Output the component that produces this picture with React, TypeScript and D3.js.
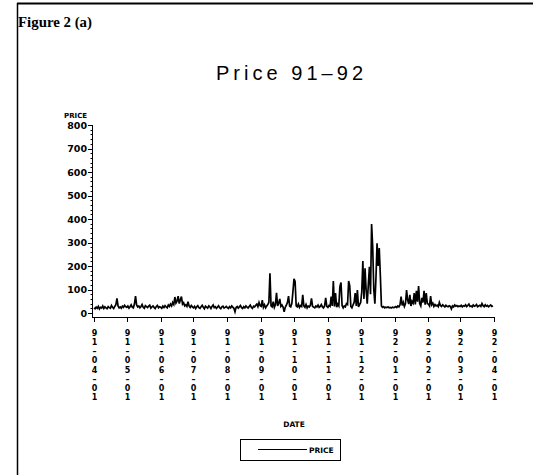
import { useEffect, useRef } from 'react'
import * as d3 from 'd3'

// daily PRICE, one array per month (Apr 1991 .. Mar 1992)
const apr91 = [22,18,25,20,28,17,24,21,30,19,26,22,18,27,23,20,32,24,19,28,35,62,30,22,26,20,29,24,33,27]
const may91 = [24,30,21,27,35,25,22,38,72,34,26,30,22,28,36,24,20,31,27,23,29,33,21,26,30,24,19,28,32,22,27]
const jun91 = [25,20,29,23,31,26,22,34,28,38,30,45,36,68,42,50,72,40,55,70,38,44,30,35,28,48,30,24,32,26]
const jul91 = [22,28,19,26,31,23,20,27,33,24,18,29,25,21,30,26,19,28,34,23,27,20,25,31,22,18,26,29,21,24,28]
const aug91 = [23,19,27,22,30,25,20,5,24,28,21,26,32,23,19,27,22,30,25,21,28,34,24,20,29,26,33,38,27,45,31]
const sep91 = [28,55,24,35,22,30,36,45,169,30,26,48,24,36,86,30,42,60,28,34,25,5,24,33,45,72,30,26,40,90]
const oct91 = [145,134,30,26,38,24,32,28,77,30,24,36,22,30,26,33,62,28,25,22,30,26,34,24,28,36,26,22,30,64,28]
const nov91 = [24,32,28,70,30,136,28,85,25,38,30,112,130,32,22,30,26,40,36,136,115,28,22,34,45,85,30,98,26,36]
const dec91 = [45,90,221,60,190,98,40,120,197,80,379,282,100,40,150,297,200,276,160,30,24,27,22,25,23,26,22,24,21,25,23]
const jan92 = [24,27,23,30,26,35,70,32,45,28,40,98,55,38,77,30,50,42,85,36,94,48,115,40,30,64,45,94,35,85,40]
const feb92 = [38,30,72,35,42,28,36,30,33,27,45,32,28,35,30,26,33,29,27,31,28,17,30,26,34,29,32,27,30]
const mar92 = [28,33,26,31,29,35,27,32,38,28,30,26,34,29,31,36,27,30,33,28,40,31,27,35,29,32,26,30,34,28,31]

const months = [
  { year: 1991, month: 3, values: apr91 },
  { year: 1991, month: 4, values: may91 },
  { year: 1991, month: 5, values: jun91 },
  { year: 1991, month: 6, values: jul91 },
  { year: 1991, month: 7, values: aug91 },
  { year: 1991, month: 8, values: sep91 },
  { year: 1991, month: 9, values: oct91 },
  { year: 1991, month: 10, values: nov91 },
  { year: 1991, month: 11, values: dec91 },
  { year: 1992, month: 0, values: jan92 },
  { year: 1992, month: 1, values: feb92 },
  { year: 1992, month: 2, values: mar92 },
]

const yTicks = [0, 100, 200, 300, 400, 500, 600, 700, 800]

type Pt = { date: Date, value: number }

export default function App() {
  const svgRef = useRef<SVGSVGElement>(null)

  useEffect(() => {
    const data: Pt[] = []
    months.forEach(m => m.values.forEach((v, i) => data.push({ date: new Date(m.year, m.month, i + 1), value: v })))

    const width = 533
    const height = 475
    const x = d3.scaleTime()
      .domain([new Date(1991, 3, 1), new Date(1992, 3, 1)])
      .range([94, 494])
    const y = d3.scaleLinear().domain([0, 800]).range([313, 125])
    const axisY = 317

    const svg = d3.select(svgRef.current)
    svg.selectAll('*').remove()
    svg.attr('width', width).attr('height', height)

    // frame
    svg.append('line').attr('x1', 17).attr('x2', width).attr('y1', 3.5).attr('y2', 3.5)
      .attr('stroke', 'black').attr('stroke-width', 2)
    svg.append('line').attr('x1', 17.5).attr('x2', 17.5).attr('y1', 3).attr('y2', height)
      .attr('stroke', 'black').attr('stroke-width', 1.5)

    svg.append('text')
      .attr('x', 18).attr('y', 27)
      .style('font-family', '"Liberation Serif", "Times New Roman", serif')
      .style('font-weight', 'bold')
      .style('font-size', '15px')
      .attr('textLength', 74)
      .attr('lengthAdjust', 'spacingAndGlyphs')
      .text('Figure 2 (a)')

    // title
    svg.append('text')
      .attr('x', 216).attr('y', 79.5)
      .style('font-family', '"Liberation Sans", Arial, sans-serif')
      .style('font-size', '20px')
      .attr('textLength', 147)
      .attr('lengthAdjust', 'spacing')
      .text('Price 91–92')

    const bold = 'DejaVu Sans, sans-serif'

    // y axis
    svg.append('line').attr('x1', 92.5).attr('x2', 92.5).attr('y1', y(800)).attr('y2', axisY)
      .attr('stroke', 'black').attr('stroke-width', 1)
    const minor = d3.range(0, 801, 20).filter(v => v % 100 !== 0)
    svg.append('g').selectAll('line').data(minor).join('line')
      .attr('x1', 90.5).attr('x2', 92.5)
      .attr('y1', d => Math.round(y(d)) + 0.5).attr('y2', d => Math.round(y(d)) + 0.5)
      .attr('stroke', 'black').attr('stroke-width', 1)
    svg.append('g').selectAll('line').data(yTicks).join('line')
      .attr('x1', 88).attr('x2', 92.5)
      .attr('y1', d => Math.round(y(d)) + 0.5).attr('y2', d => Math.round(y(d)) + 0.5)
      .attr('stroke', 'black').attr('stroke-width', 1)
    svg.append('g').selectAll('text').data(yTicks).join('text')
      .attr('x', 87).attr('y', d => y(d) + 3.5)
      .attr('text-anchor', 'end')
      .style('font-family', bold).style('font-weight', 'bold').style('font-size', '9.5px')
      .text(d => d)
    svg.append('text')
      .attr('x', 64).attr('y', 117.5)
      .style('font-family', bold).style('font-weight', 'bold').style('font-size', '7px')
      .text('PRICE')

    // x axis
    const xTicks = months.map(m => new Date(m.year, m.month, 1)).concat([new Date(1992, 3, 1)])
    const fmt = d3.timeFormat('%y-%m-%d')
    svg.append('line').attr('x1', 92).attr('x2', 494.5).attr('y1', axisY + 0.5).attr('y2', axisY + 0.5)
      .attr('stroke', 'black').attr('stroke-width', 1)
    svg.append('g').selectAll('line').data(xTicks).join('line')
      .attr('x1', d => Math.round(x(d)) + 0.5).attr('x2', d => Math.round(x(d)) + 0.5)
      .attr('y1', axisY).attr('y2', axisY + 5)
      .attr('stroke', 'black').attr('stroke-width', 1)
    const lbl = svg.append('g').selectAll('text').data(xTicks).join('text')
      .attr('text-anchor', 'middle')
      .style('font-family', bold).style('font-weight', 'bold').style('font-size', '8px')
    lbl.each(function (d) {
      const t = d3.select(this)
      fmt(d).split('').forEach((c, i) => {
        t.append('tspan')
          .attr('x', Math.round(x(d)) + 0.5)
          .attr('y', 335.8 + i * 9.2)
          .text(c === '-' ? '–' : c)
      })
    })
    svg.append('text')
      .attr('x', 294).attr('y', 427)
      .attr('text-anchor', 'middle')
      .style('font-family', bold).style('font-weight', 'bold').style('font-size', '7.5px')
      .text('DATE')

    // series
    const line = d3.line<Pt>().x(d => x(d.date)).y(d => y(d.value))
    svg.append('path').datum(data)
      .attr('d', line)
      .attr('fill', 'none')
      .attr('stroke', 'black')
      .attr('stroke-width', 1.7)
      .attr('stroke-linejoin', 'miter')

    // legend
    svg.append('rect').attr('x', 240.5).attr('y', 439.5).attr('width', 100).attr('height', 21)
      .attr('fill', 'none').attr('stroke', 'black').attr('stroke-width', 1)
    svg.append('line').attr('x1', 258).attr('x2', 307).attr('y1', 449.5).attr('y2', 449.5)
      .attr('stroke', 'black').attr('stroke-width', 1)
    svg.append('text')
      .attr('x', 309).attr('y', 452.5)
      .style('font-family', bold).style('font-weight', 'bold').style('font-size', '7.5px')
      .text('PRICE')
  }, [])

  return (
    <div>
      <svg ref={svgRef} style={{ position: 'absolute', left: 0, top: 0 }}></svg>
    </div>
  )
}
